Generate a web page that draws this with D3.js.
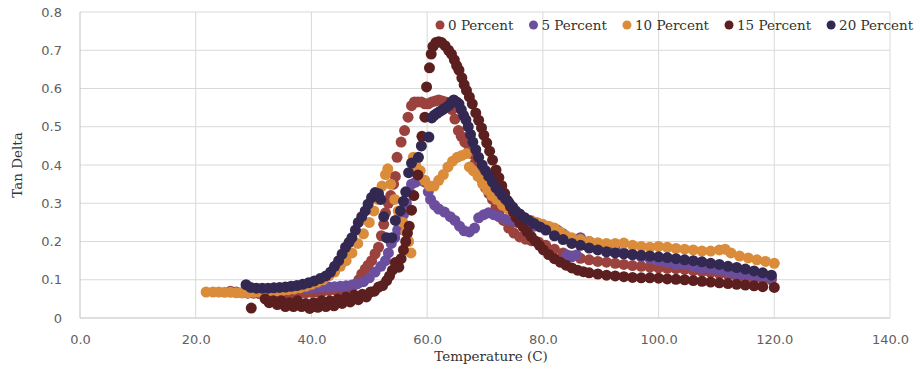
<!DOCTYPE html>
<html>
<head>
<meta charset="utf-8">
<script src="https://cdn.jsdelivr.net/npm/d3@7.9.0/dist/d3.min.js"></script>
<style>
  body { margin: 0; background: #fff; }
  svg { display: block; }
  .tick-label { font-family: "DejaVu Sans", sans-serif; font-size: 13px; fill: #606060; }
  .title, .legend text { font-family: "DejaVu Serif", serif; font-size: 13.5px; fill: #333; }
</style>
</head>
<body>
<svg id="chart" width="921" height="371"></svg>
<script>
// series labels + colours
const seriesNames = ['0 Percent', '5 Percent', '10 Percent', '15 Percent', '20 Percent'];
const seriesColors = ['#9b423e', '#6b4e9d', '#db8c3b', '#5c1f20', '#332851'];

const xTicks = [0, 20, 40, 60, 80, 100, 120, 140];
const yTicks = [0, 0.1, 0.2, 0.3, 0.4, 0.5, 0.6, 0.7, 0.8];

// [temperature, tan delta]
const pct0 = [[26,0.07],[27,0.068],[28,0.066],[29,0.065],[30,0.065],[31,0.064],[32,0.064],[33,0.063],[34,0.063],
  [35,0.063],[36,0.063],[37,0.064],[38,0.065],[39,0.066],[40,0.067],[41,0.068],[42,0.07],[43,0.072],[44,0.074],
  [45,0.076],[46,0.078],[47,0.082],[47.6,0.088],[48.2,0.1],[48.7,0.115],[49.3,0.128],[49.8,0.138],[50.4,0.15],
  [51,0.168],[51.6,0.185],[52.1,0.215],[52.5,0.245],[52.8,0.275],[53.3,0.3],[53.7,0.32],[54.2,0.35],[54.5,0.37],
  [54.8,0.42],[55.5,0.46],[56.1,0.49],[56.7,0.525],[57.3,0.555],[57.8,0.565],[58.4,0.565],[59,0.565],[59.6,0.56],
  [60.2,0.56],[60.8,0.565],[61.4,0.567],[62,0.57],[62.6,0.567],[63.2,0.565],[63.8,0.555],[64.3,0.545],[64.8,0.52],
  [65.4,0.49],[65.9,0.475],[66.5,0.46],[67.2,0.45],[67.7,0.43],[68.3,0.405],[68.9,0.38],[69.5,0.36],[70.1,0.34],
  [70.7,0.325],[71.3,0.31],[71.9,0.29],[72.4,0.275],[73.2,0.255],[74.1,0.235],[75,0.222],[76,0.212],[77,0.206],
  [78,0.202],[79.3,0.198],[80.5,0.19],[82,0.18],[83.5,0.17],[85,0.162],[86.5,0.156],[88,0.152],[89.5,0.148],
  [91,0.146],[92.5,0.143],[94,0.14],[95.5,0.137],[97,0.135],[98.5,0.133],[100,0.131],[101.5,0.13],[103,0.129],
  [104.5,0.127],[106,0.124],[107.5,0.121],[109,0.119],[110.5,0.116],[112,0.113],[113.5,0.109],[115,0.106],
  [116.5,0.104],[118,0.102],[119.5,0.1]];

const pct5 = [[30,0.075],[31,0.075],[32,0.075],[33,0.075],[34,0.076],[35,0.076],[36,0.077],[37,0.077],[38,0.078],
  [39,0.078],[40,0.079],[41,0.08],[42,0.08],[43,0.081],[44,0.082],[45,0.083],[46,0.084],[47,0.086],[48,0.09],
  [49,0.095],[50,0.105],[51,0.12],[52,0.135],[52.8,0.15],[53.3,0.17],[53.8,0.195],[54.4,0.21],[54.9,0.23],
  [55.4,0.25],[55.9,0.27],[56.4,0.3],[56.9,0.33],[57.3,0.35],[58,0.355],[58.8,0.36],[59.6,0.355],[60.2,0.33],
  [60.6,0.31],[61.3,0.295],[62,0.285],[63,0.277],[64,0.265],[64.8,0.255],[65.6,0.24],[66.4,0.228],[67.3,0.225],
  [68.2,0.235],[68.9,0.262],[69.8,0.27],[70.6,0.275],[71.5,0.27],[72.4,0.265],[73.5,0.258],[74.5,0.255],[75.5,0.25],
  [76.5,0.25],[77.5,0.245],[78.5,0.24],[79.5,0.245],[80.5,0.24],[81.5,0.235],[82.5,0.23],[83.5,0.22],[84.2,0.165],
  [85,0.16],[85.8,0.165],[86.5,0.21],[88,0.2],[89.5,0.195],[91,0.19],[92.5,0.18],[94,0.17],[95.5,0.165],[97,0.16],
  [98.5,0.155],[100,0.15],[101.5,0.145],[103,0.14],[104.5,0.14],[106,0.135],[107.5,0.13],[109,0.128],[110.5,0.125],
  [112,0.12],[113.5,0.115],[115,0.112],[116.5,0.11],[118,0.108],[119.5,0.105]];

const pct10 = [[21.8,0.068],[23,0.068],[24,0.068],[25,0.067],[26,0.067],[27,0.066],[28,0.066],[29,0.066],[30,0.067],
  [31,0.068],[32,0.069],[33,0.07],[34,0.071],[35,0.072],[36,0.074],[37,0.076],[38,0.079],[39,0.083],[40,0.088],
  [41,0.094],[42,0.1],[43,0.11],[44,0.12],[45,0.135],[46,0.15],[47,0.17],[48,0.195],[49,0.22],[50,0.25],[50.8,0.28],
  [51.5,0.31],[52.2,0.345],[52.8,0.375],[53.2,0.39],[53.7,0.35],[54.4,0.31],[55,0.28],[55.4,0.28],[55.8,0.25],
  [56.3,0.225],[56.8,0.2],[57.2,0.17],[57.6,0.42],[58,0.4],[58.8,0.385],[59.6,0.36],[60.4,0.345],[61.2,0.345],
  [62,0.36],[62.8,0.375],[63.6,0.395],[64.4,0.41],[65.2,0.42],[66,0.425],[66.8,0.43],[67.3,0.395],[68,0.385],
  [68.8,0.37],[69.6,0.35],[70.4,0.335],[71.2,0.32],[72,0.31],[73,0.295],[74,0.285],[75,0.275],[76,0.265],[77,0.26],
  [78,0.255],[79,0.25],[80,0.245],[81,0.24],[82,0.235],[83,0.225],[84,0.215],[85,0.21],[86.5,0.205],[88,0.2],
  [89.5,0.197],[91,0.195],[92.5,0.195],[94,0.196],[95.5,0.19],[97,0.187],[98.5,0.185],[100,0.187],[101.5,0.185],
  [103,0.182],[104.5,0.18],[106,0.178],[107.5,0.175],[109,0.175],[110.5,0.178],[111.5,0.18],[112.5,0.17],
  [114,0.162],[115.5,0.157],[117,0.152],[118.5,0.148],[120,0.143]];

const pct15 = [[29.6,0.026],[32,0.05],[32.7,0.04],[33.4,0.045],[34.1,0.035],[34.8,0.045],[35.5,0.03],[36.2,0.04],
  [36.9,0.03],[37.6,0.045],[38.3,0.03],[39,0.038],[39.7,0.025],[40.4,0.04],[41.1,0.028],[41.8,0.045],[42.5,0.03],
  [43.2,0.045],[43.9,0.032],[44.6,0.05],[45.3,0.038],[46,0.055],[46.7,0.042],[47.4,0.06],[48.1,0.048],[48.8,0.062],
  [49.5,0.055],[50.2,0.068],[50.9,0.07],[51.6,0.081],[52.3,0.085],[53,0.098],[53.5,0.11],[54,0.125],[54.5,0.145],
  [55.1,0.133],[55.5,0.155],[55.9,0.178],[56.3,0.2],[56.6,0.222],[56.9,0.24],[57.3,0.282],[57.7,0.32],[58.4,0.374],
  [59.1,0.475],[59.6,0.525],[59.9,0.604],[60.4,0.654],[60.7,0.69],[61,0.71],[61.5,0.72],[62,0.722],[62.5,0.72],
  [63.1,0.712],[63.7,0.7],[64.2,0.69],[64.7,0.675],[65.1,0.66],[65.5,0.648],[66,0.628],[66.4,0.61],[66.8,0.595],
  [67.3,0.578],[67.8,0.56],[68.4,0.536],[68.9,0.517],[69.4,0.497],[69.8,0.478],[70.3,0.458],[70.8,0.436],
  [71.3,0.413],[71.9,0.387],[72.4,0.367],[72.9,0.346],[73.4,0.326],[73.9,0.307],[74.4,0.291],[74.9,0.277],
  [75.4,0.263],[76,0.25],[76.6,0.238],[77.3,0.225],[78,0.213],[78.7,0.201],[79.4,0.19],[80.1,0.178],[81,0.166],
  [82,0.155],[83,0.146],[84,0.138],[85,0.131],[86,0.125],[87,0.121],[88,0.118],[89.5,0.115],[91,0.112],[92.5,0.11],
  [94,0.108],[95.5,0.106],[97,0.105],[98.5,0.105],[100,0.104],[101.5,0.102],[103,0.101],[104.5,0.1],[106,0.098],
  [107.5,0.096],[109,0.094],[110.5,0.092],[112,0.09],[113.5,0.088],[115,0.086],[116.5,0.084],[118,0.082],[120,0.08]];

const pct20 = [[28.7,0.087],[29.5,0.08],[30.5,0.078],[31.5,0.078],[32.5,0.078],[33.5,0.079],[34.5,0.08],[35.5,0.081],
  [36.5,0.083],[37.5,0.085],[38.5,0.088],[39.5,0.092],[40.5,0.097],[41.5,0.103],[42.5,0.11],[43.3,0.12],[44,0.135],
  [44.7,0.15],[45.3,0.167],[45.9,0.185],[46.5,0.198],[47,0.21],[47.6,0.23],[48.1,0.25],[48.7,0.265],[49.3,0.28],
  [49.8,0.298],[50.4,0.315],[51,0.328],[51.6,0.325],[52,0.31],[52.5,0.265],[53,0.21],[53.9,0.21],[54.5,0.255],
  [55.4,0.28],[55.9,0.305],[56.3,0.33],[56.8,0.38],[57.3,0.405],[58.5,0.42],[59,0.45],[60.3,0.473],[60.8,0.523],
  [61.2,0.53],[61.7,0.535],[62.2,0.54],[62.7,0.545],[63.2,0.55],[63.7,0.555],[64.2,0.565],[64.6,0.57],[65.1,0.565],
  [65.5,0.56],[65.9,0.545],[66.3,0.53],[66.7,0.518],[67.1,0.5],[67.5,0.48],[67.9,0.46],[68.4,0.44],[68.9,0.42],
  [69.5,0.4],[70.1,0.385],[70.7,0.37],[71.3,0.355],[71.9,0.34],[72.5,0.33],[73,0.32],[73.6,0.31],[74.2,0.3],
  [74.8,0.29],[75.3,0.28],[76,0.272],[76.8,0.263],[77.6,0.255],[78.5,0.247],[79.5,0.238],[80.5,0.23],[82,0.215],
  [83.5,0.205],[85,0.195],[86.5,0.19],[88,0.183],[89.5,0.178],[91,0.173],[92.5,0.17],[94,0.168],[95.5,0.166],
  [97,0.164],[98.5,0.162],[100,0.16],[101.5,0.158],[103,0.155],[104.5,0.152],[106,0.15],[107.5,0.147],[109,0.143],
  [110.5,0.14],[112,0.135],[113.5,0.132],[115,0.128],[116.5,0.123],[118,0.118],[119.5,0.112]];

const allSeries = [pct0, pct5, pct10, pct15, pct20];

const svg = d3.select('#chart');
const margin = { left: 80, right: 31, top: 12, bottom: 53 };
const W = 921, H = 371;

const x = d3.scaleLinear().domain([0, 140]).range([margin.left, W - margin.right]);
const y = d3.scaleLinear().domain([0, 0.8]).range([H - margin.bottom, margin.top]);

// grid
svg.append('g')
  .selectAll('line.h')
  .data(yTicks)
  .join('line')
  .attr('x1', x(0)).attr('x2', x(140))
  .attr('y1', d => y(d)).attr('y2', d => y(d))
  .attr('stroke', d => d === 0 ? '#bfbfbf' : '#d9d9d9')
  .attr('stroke-width', 1);

svg.append('g')
  .selectAll('line.v')
  .data(xTicks)
  .join('line')
  .attr('x1', d => x(d)).attr('x2', d => x(d))
  .attr('y1', y(0)).attr('y2', y(0.8))
  .attr('stroke', d => d === 0 ? '#bfbfbf' : '#d9d9d9')
  .attr('stroke-width', 1);

// axes via d3 axis, then restyle
const xAxis = svg.append('g')
  .attr('transform', `translate(0,${y(0)})`)
  .call(d3.axisBottom(x).tickValues(xTicks).tickFormat(d3.format('.1f')).tickSize(0).tickPadding(17));
const yAxis = svg.append('g')
  .attr('transform', `translate(${x(0)},0)`)
  .call(d3.axisLeft(y).tickValues(yTicks).tickFormat(d => d === 0 ? '0' : d3.format('.1f')(d)).tickSize(0).tickPadding(18));
[xAxis, yAxis].forEach(g => {
  g.select('.domain').remove();
  g.attr('font-family', null).attr('font-size', null);
  g.selectAll('text').attr('class', 'tick-label');
});

// axis titles
svg.append('text')
  .attr('class', 'title')
  .attr('x', (x(0) + x(140)) / 2 + 6)
  .attr('y', 361)
  .attr('text-anchor', 'middle')
  .text('Temperature (C)');

svg.append('text')
  .attr('class', 'title')
  .attr('transform', `translate(22,${(y(0) + y(0.8)) / 2}) rotate(-90)`)
  .attr('text-anchor', 'middle')
  .text('Tan Delta');

// points (Excel draws series in order, last one on top)
allSeries.forEach((pts, i) => {
  svg.append('g')
    .selectAll('circle')
    .data(pts)
    .join('circle')
    .attr('cx', d => x(d[0]))
    .attr('cy', d => y(d[1]))
    .attr('r', 5.5)
    .attr('fill', seriesColors[i]);
});

// legend, flowed left to right
const legend = svg.append('g').attr('class', 'legend');
let lx = 440;
seriesNames.forEach((name, i) => {
  legend.append('circle').attr('cx', lx).attr('cy', 25).attr('r', 4.5).attr('fill', seriesColors[i]);
  const t = legend.append('text').attr('x', lx + 8).attr('y', 30).text(name);
  lx += 8 + t.node().getComputedTextLength() + 20;
});
</script>
</body>
</html>
